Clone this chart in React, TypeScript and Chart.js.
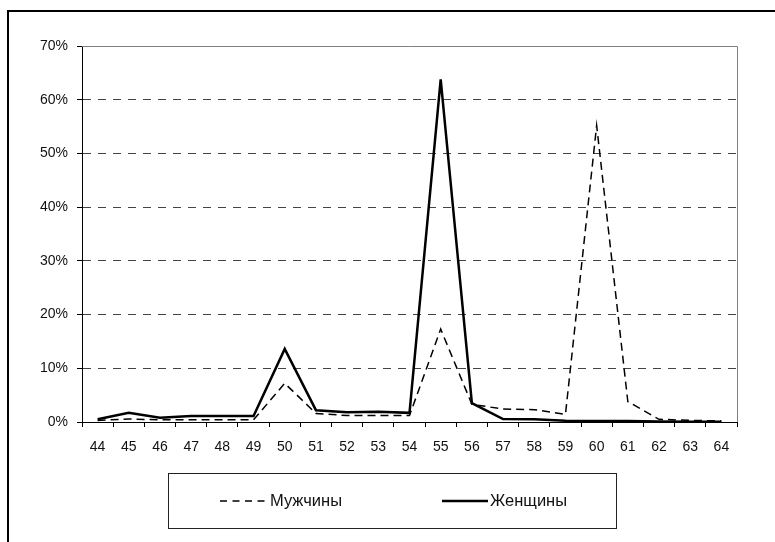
import React, { useEffect, useRef } from "react";
import { Chart, registerables } from "chart.js";

Chart.register(...registerables);

const categories = ["44","45","46","47","48","49","50","51","52","53","54","55","56","57","58","59","60","61","62","63","64"];
const menValues = [0.3, 0.55, 0.4, 0.4, 0.4, 0.4, 7.2, 1.6, 1.2, 1.2, 1.2, 17.3, 3.3, 2.4, 2.3, 1.4, 55.2, 3.8, 0.5, 0.3, 0.2];
const womenValues = [0.5, 1.7, 0.8, 1.1, 1.1, 1.1, 13.6, 2.2, 1.8, 1.9, 1.7, 63.8, 3.5, 0.55, 0.5, 0.25, 0.2, 0.2, 0.1, 0.05, 0.05];
const seriesNames = ["Мужчины", "Женщины"];
const yTicksMax = 70;
const yStep = 10;

const FONT = "'Liberation Sans', Arial, sans-serif";

const decorPlugin = {
  id: "decor",
  afterDraw(chart: any) {
    const ctx = chart.ctx as CanvasRenderingContext2D;
    const a = chart.chartArea;
    ctx.save();
    ctx.strokeStyle = "#808080";
    ctx.lineWidth = 1;
    ctx.beginPath();
    ctx.moveTo(a.left, Math.round(a.top) + 0.5);
    ctx.lineTo(Math.round(a.right) + 0.5, Math.round(a.top) + 0.5);
    ctx.lineTo(Math.round(a.right) + 0.5, a.bottom);
    ctx.stroke();
    ctx.fillStyle = "#000";
    ctx.fillRect(7, 10, 2, 542);
    ctx.fillRect(7, 10, 775, 2);
    const bx = 168, by = 473, bw = 448, bh = 55;
    ctx.strokeStyle = "#222";
    ctx.lineWidth = 1;
    ctx.strokeRect(bx + 0.5, by + 0.5, bw, bh);
    const cy = 501;
    ctx.strokeStyle = "#000";
    ctx.lineWidth = 1.5;
    ctx.setLineDash([7, 5.5]);
    ctx.beginPath();
    ctx.moveTo(220, cy);
    ctx.lineTo(267, cy);
    ctx.stroke();
    ctx.setLineDash([]);
    ctx.lineWidth = 2.5;
    ctx.beginPath();
    ctx.moveTo(442, cy);
    ctx.lineTo(488, cy);
    ctx.stroke();
    ctx.fillStyle = "#111";
    ctx.font = `16.5px ${FONT}`;
    ctx.textBaseline = "middle";
    ctx.textAlign = "left";
    ctx.fillText(seriesNames[0], 270, cy);
    ctx.fillText(seriesNames[1], 490, cy);
    ctx.restore();
  },
};

export default function App() {
  const ref = useRef<HTMLCanvasElement | null>(null);
  useEffect(() => {
    if (!ref.current) return;
    const chart = new Chart(ref.current, {
      type: "line",
      data: {
        labels: categories,
        datasets: [
          {
            label: seriesNames[0],
            data: menValues,
            borderColor: "#000",
            borderWidth: 1.5,
            borderDash: [8, 5],
            pointRadius: 0,
            tension: 0,
            fill: false,
          },
          {
            label: seriesNames[1],
            data: womenValues,
            borderColor: "#000",
            borderWidth: 2.5,
            pointRadius: 0,
            tension: 0,
            fill: false,
          },
        ],
      },
      options: {
        responsive: false,
        animation: false,
        layout: { padding: { left: 0, top: 46, right: 38, bottom: 90 } },
        plugins: {
          legend: { display: false },
          tooltip: { enabled: false },
        },
        scales: {
          x: {
            type: "category",
            offset: true,
            grid: {
              offset: true,
              drawOnChartArea: false,
              drawTicks: true,
              tickLength: 5,
              tickColor: "#000",
            },
            border: { display: true, color: "#000", width: 1 },
            ticks: {
              color: "#111",
              font: { family: FONT, size: 14 },
              padding: 12,
              maxRotation: 0,
              autoSkip: false,
            },
            afterFit: (s: any) => { s.height = 30; },
          },
          y: {
            min: 0,
            max: yTicksMax,
            ticks: {
              stepSize: yStep,
              color: "#111",
              font: { family: FONT, size: 14 },
              padding: 9,
              callback: (v: any) => `${v}%`,
            },
            grid: {
              color: (c: any) => (c.tick && (c.tick.value === 0 || c.tick.value === yTicksMax) ? "rgba(0,0,0,0)" : "#444"),
              lineWidth: 1,
              tickLength: 5,
              tickColor: "#000",
            },
            border: { display: true, color: "#000", width: 1, dash: [8, 7] },
            afterFit: (s: any) => { s.width = 82; },
          },
        },
      },
      plugins: [decorPlugin],
    });
    return () => chart.destroy();
  }, []);
  return (
    <div style={{ position: "absolute", left: 0, top: 0, width: 775, height: 542, background: "#fff" }}>
      <canvas ref={ref} width={775} height={542} style={{ width: 775, height: 542, display: "block" }} />
    </div>
  );
}
